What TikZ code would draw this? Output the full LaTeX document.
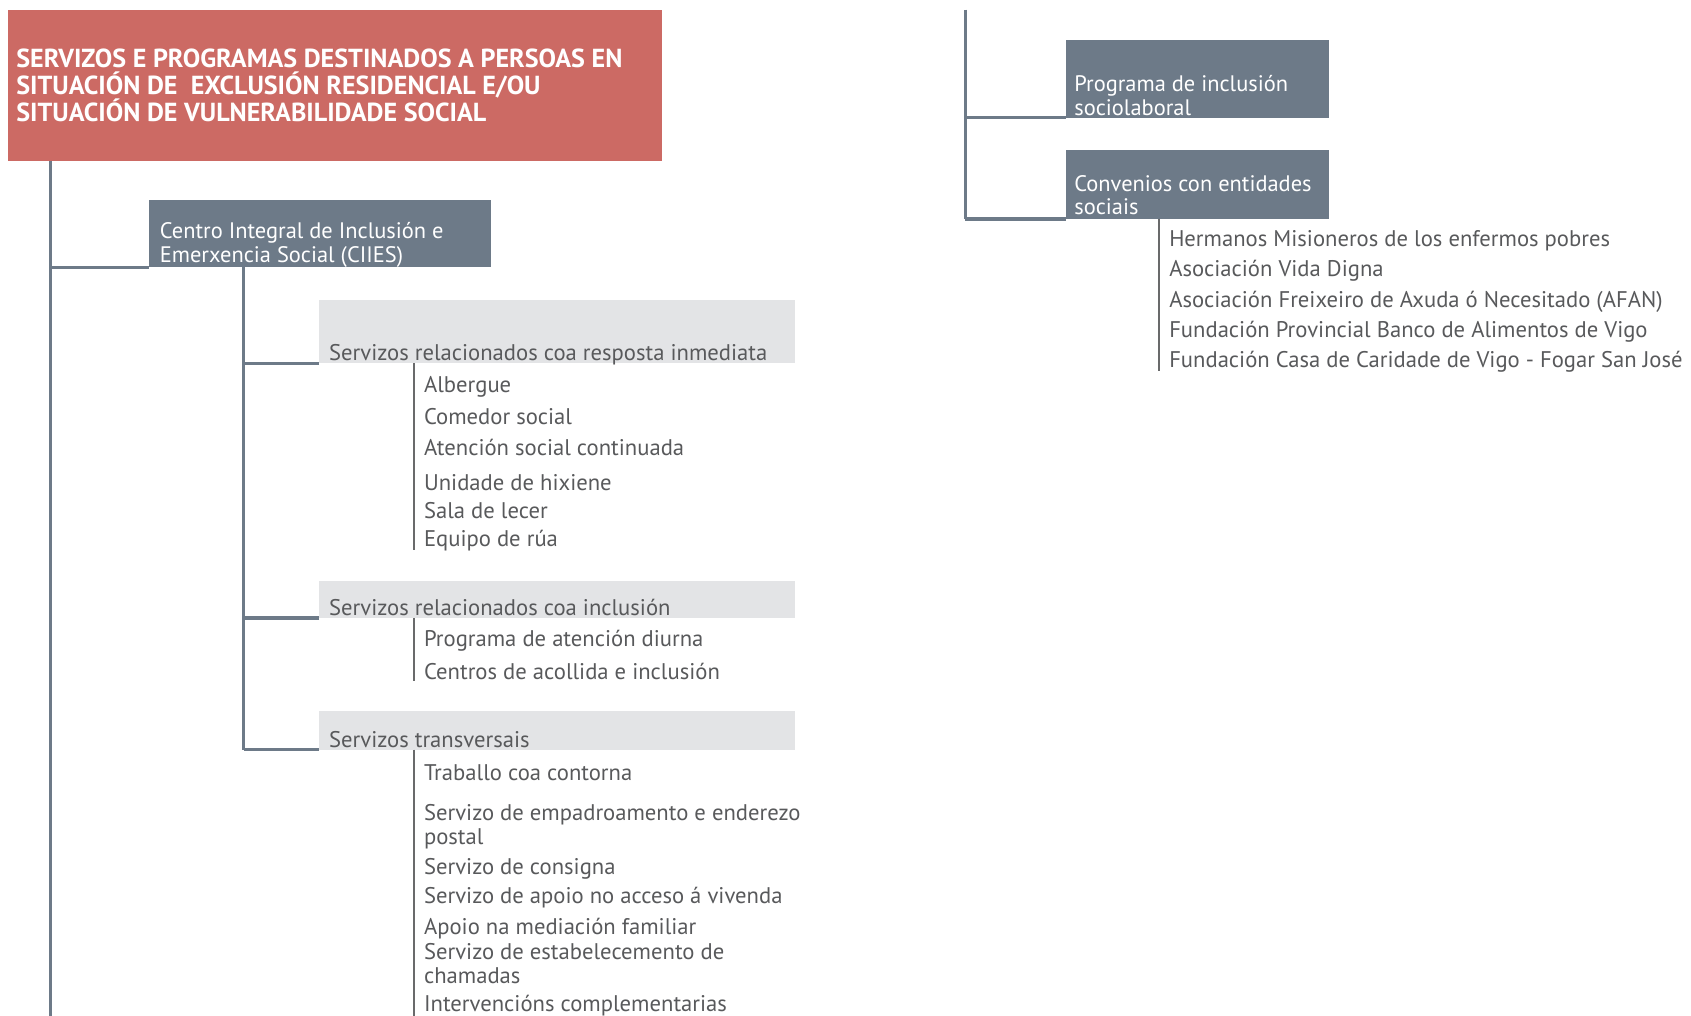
\documentclass[tikz,border=0pt]{standalone}
\usepackage{fontspec}
\setmainfont{PT Sans}
\definecolor{redc}{HTML}{CC6A64}
\definecolor{slate}{HTML}{6D7A88}
\definecolor{lightg}{HTML}{E3E4E6}
\definecolor{txt}{HTML}{58595B}
\begin{document}
\begin{tikzpicture}[x=1pt,y=-1pt,
  trunk/.style={draw=slate,line width=3pt},
  itemline/.style={draw=txt!90,line width=1.8pt},
  redbox/.style={fill=redc,anchor=north west,inner sep=0,outer sep=0},
  slatebox/.style={fill=slate,anchor=north west,inner sep=0,outer sep=0},
  greybox/.style={fill=lightg,anchor=north west,inner sep=0,outer sep=0},
  titletext/.style={anchor=west,inner sep=0,align=left,text=white,font=\fontsize{24.2}{25}\selectfont\bfseries},
  whitetext/.style={anchor=west,inner sep=0,align=left,text=white,yshift=-1pt,font=\fontsize{20.8}{22}\selectfont},
  itemtext/.style={anchor=west,inner sep=0,align=left,text=txt,yshift=-1.5pt,font=\fontsize{21}{22}\selectfont}]
\useasboundingbox (0,0) rectangle (1568,942);
% title
\node[redbox,minimum width=607pt,minimum height=140pt] (title) at (7,9) {};
\node[titletext] (titleT) at (15,79) {SERVIZOS E PROGRAMAS DESTINADOS A PERSOAS EN\\SITUACIÓN DE\ \ EXCLUSIÓN RESIDENCIAL E/OU\\SITUACIÓN DE VULNERABILIDADE SOCIAL};
% CIIES
\node[slatebox,minimum width=317pt,minimum height=63pt] (ciies) at (138,185) {};
\node[whitetext] (ciiesT) at (148,226) {Centro Integral de Inclusión e\\Emerxencia Social (CIIES)};
% grey boxes
\node[greybox,minimum width=441pt,minimum height=59pt] (s1) at (296,278) {};
\node[itemtext] (s1T) at (305,327) {Servizos relacionados coa resposta inmediata};
\node[greybox,minimum width=441pt,minimum height=34pt] (s2) at (296,539) {};
\node[itemtext] (s2T) at (305,562) {Servizos relacionados coa inclusión};
\node[greybox,minimum width=441pt,minimum height=36pt] (s3) at (296,659) {};
\node[itemtext] (s3T) at (305,684) {Servizos transversais};
% items 1
\node[itemtext] (a1) at (393,357) {Albergue};
\node[itemtext] (a2) at (393,385) {Comedor social};
\node[itemtext] (a3) at (393,413) {Atención social continuada};
\node[itemtext] (a4) at (393,446) {Unidade de hixiene};
\node[itemtext] (a5) at (393,472) {Sala de lecer};
\node[itemtext] (a6) at (393,500) {Equipo de rúa};
% items 2
\node[itemtext] (b1) at (393,593) {Programa de atención diurna};
\node[itemtext] (b2) at (393,621) {Centros de acollida e inclusión};
% items 3
\node[itemtext] (c1) at (393,715) {Traballo coa contorna};
\node[itemtext] (c2) at (393,765) {Servizo de empadroamento e enderezo\\postal};
\node[itemtext] (c3) at (393,804) {Servizo de consigna};
\node[itemtext] (c4) at (393,831) {Servizo de apoio no acceso á vivenda};
\node[itemtext] (c5) at (393,860) {Apoio na mediación familiar};
\node[itemtext] (c6) at (393,892) {Servizo de estabelecemento de\\chamadas};
\node[itemtext] (c7) at (393,931) {Intervencións complementarias};
% right side
\node[slatebox,minimum width=244pt,minimum height=72pt] (prog) at (988,37) {};
\node[whitetext] (progT) at (996,87.5) {Programa de inclusión\\sociolaboral};
\node[slatebox,minimum width=244pt,minimum height=64pt] (conv) at (988,139) {};
\node[whitetext] (convT) at (996,180) {Convenios con entidades\\sociais};
\node[itemtext] (d1) at (1084,222) {Hermanos Misioneros de los enfermos pobres};
\node[itemtext] (d2) at (1084,250) {Asociación Vida Digna};
\node[itemtext] (d3) at (1084,278) {Asociación Freixeiro de Axuda ó Necesitado (AFAN)};
\node[itemtext] (d4) at (1084,306) {Fundación Provincial Banco de Alimentos de Vigo};
\node[itemtext] (d5) at (1084,334) {Fundación Casa de Caridade de Vigo - Fogar San José};
% coordinates
\coordinate (trunkend) at (47,942);
\coordinate (ciiesx) at (226,697);
\coordinate (l1) at (384,510);
\coordinate (l2) at (384,631);
\coordinate (l3) at (384,942);
\coordinate (rtop) at (895,9);
\coordinate (l4) at (1075,344);
% connectors
\draw[trunk] (title.south -| trunkend) -- (trunkend);
\draw[trunk] (ciies.south west) -- (ciies.south west -| trunkend);
\draw[trunk] (ciies.south -| ciiesx) -- (s3.south -| ciiesx);
\draw[trunk] (s1.south west) -- (s1.south west -| ciiesx);
\draw[trunk] (s2.south west) -- (s2.south west -| ciiesx);
\draw[trunk] (s3.south west) -- (s3.south west -| ciiesx);
\draw[itemline] (s1.south -| l1) -- (l1);
\draw[itemline] (s2.south -| l2) -- (l2);
\draw[itemline] (s3.south -| l3) -- (l3);
\draw[trunk] (rtop) -- (conv.south west -| rtop);
\draw[trunk] (prog.south west) -- (prog.south west -| rtop);
\draw[trunk] (conv.south west) -- (conv.south west -| rtop);
\draw[itemline] (conv.south -| l4) -- (l4);
\end{tikzpicture}
\end{document}
